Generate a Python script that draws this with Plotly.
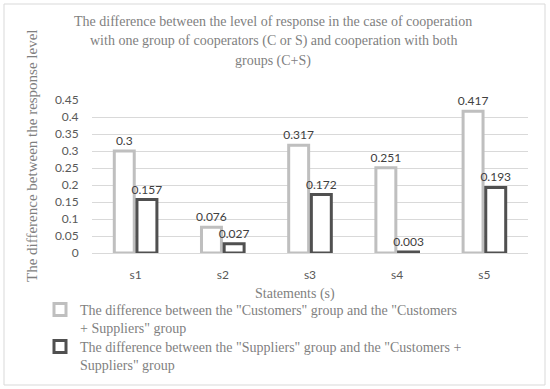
import plotly.graph_objects as go

categories = ["s1", "s2", "s3", "s4", "s5"]
customers_diff = [0.3, 0.076, 0.317, 0.251, 0.417]
suppliers_diff = [0.157, 0.027, 0.172, 0.003, 0.193]
series_names = [
    'The difference between the "Customers" group and the "Customers<br>+ Suppliers" group',
    'The difference between the "Suppliers" group and the "Customers +<br>Suppliers" group',
]
y_ticks = [0, 0.05, 0.1, 0.15, 0.2, 0.25, 0.3, 0.35, 0.4, 0.45]
y_tick_labels = ["0", "0.05", "0.1", "0.15", "0.2", "0.25", "0.3", "0.35", "0.4", "0.45"]
title_lines = [
    "The difference between the level of response in the case of cooperation",
    "with one group of cooperators (C or S) and cooperation with both",
    "groups (C+S)",
]
y_title = "The difference between the response level"
x_title = "Statements (s)"

SERIF = "Liberation Serif, Times New Roman, serif"
SANS = "Lato, Liberation Sans, sans-serif"
TEXT_GRAY = "#7f7f7f"

W, H = 550, 389
L, R, T, B = 92, 22, 100, 136
pw, ph = W - L - R, H - T - B

def px_x(x):
    return (x - L) / pw

def px_y(y):
    return (H - B - y) / ph

fig = go.Figure()
fig.add_trace(go.Bar(
    x=categories, y=customers_diff, name=series_names[0], legend="legend",
    marker=dict(color="white", line=dict(color="#bfbfbf", width=3)),
    text=[str(v) for v in customers_diff], textposition="outside", constraintext="none",
    textfont=dict(family=SANS, size=12, color="#404040"), cliponaxis=False,
))
fig.add_trace(go.Bar(
    x=categories, y=suppliers_diff, name=series_names[1], legend="legend2",
    marker=dict(color="white", line=dict(color="#505050", width=3)),
    text=[str(v) for v in suppliers_diff], textposition="outside", constraintext="none",
    textfont=dict(family=SANS, size=12, color="#404040"), cliponaxis=False,
))

annotations = []
title_y = [21, 40.5, 60.5]
for line, yy in zip(title_lines, title_y):
    annotations.append(dict(
        text=line, xref="paper", yref="paper", x=px_x(273), y=px_y(yy),
        xanchor="center", yanchor="middle", showarrow=False,
        font=dict(family=SERIF, size=14, color=TEXT_GRAY),
    ))
annotations.append(dict(
    text=y_title, xref="paper", yref="paper", x=px_x(32), y=px_y(156),
    xanchor="center", yanchor="middle", showarrow=False, textangle=-90,
    font=dict(family=SERIF, size=15, color=TEXT_GRAY),
))
annotations.append(dict(
    text=x_title, xref="paper", yref="paper", x=px_x(295), y=px_y(294),
    xanchor="center", yanchor="middle", showarrow=False,
    font=dict(family=SERIF, size=14, color=TEXT_GRAY),
))

legend_common = dict(
    xanchor="left", yanchor="top",
    font=dict(family=SERIF, size=14, color=TEXT_GRAY),
    valign="top", itemwidth=30, bgcolor="rgba(0,0,0,0)",
)

fig.update_layout(
    width=W, height=H,
    margin=dict(l=L, r=R, t=T, b=B, pad=0, autoexpand=False),
    paper_bgcolor="white", plot_bgcolor="white",
    barmode="group", bargap=0.48, bargroupgap=0.12,
    showlegend=True,
    legend=dict(x=px_x(40), y=px_y(294), **legend_common),
    legend2=dict(x=px_x(40), y=px_y(331), **legend_common),
    annotations=annotations,
    shapes=[dict(
        type="rect", xref="paper", yref="paper",
        x0=px_x(4), x1=px_x(545), y0=px_y(385), y1=px_y(4),
        line=dict(color="#d9d9d9", width=1), fillcolor="rgba(0,0,0,0)", layer="below",
    )],
    xaxis=dict(
        showgrid=False, showline=False, zeroline=False,
        ticks="outside", ticklen=11, tickcolor="rgba(0,0,0,0)",
        tickfont=dict(family=SANS, size=12, color="#595959"),
    ),
    yaxis=dict(
        range=[0, 0.45], tickvals=y_ticks, ticktext=y_tick_labels,
        showgrid=True, gridcolor="#d9d9d9", gridwidth=1,
        zeroline=True, zerolinecolor="#d9d9d9", zerolinewidth=1, showline=False,
        ticks="outside", ticklen=10, tickcolor="rgba(0,0,0,0)",
        tickfont=dict(family=SANS, size=12, color="#595959"),
    ),
)

fig.write_html(
    "out.html",
    config={"displayModeBar": False},
    post_script="document.body.style.margin='0';document.body.style.overflow='hidden';",
)
